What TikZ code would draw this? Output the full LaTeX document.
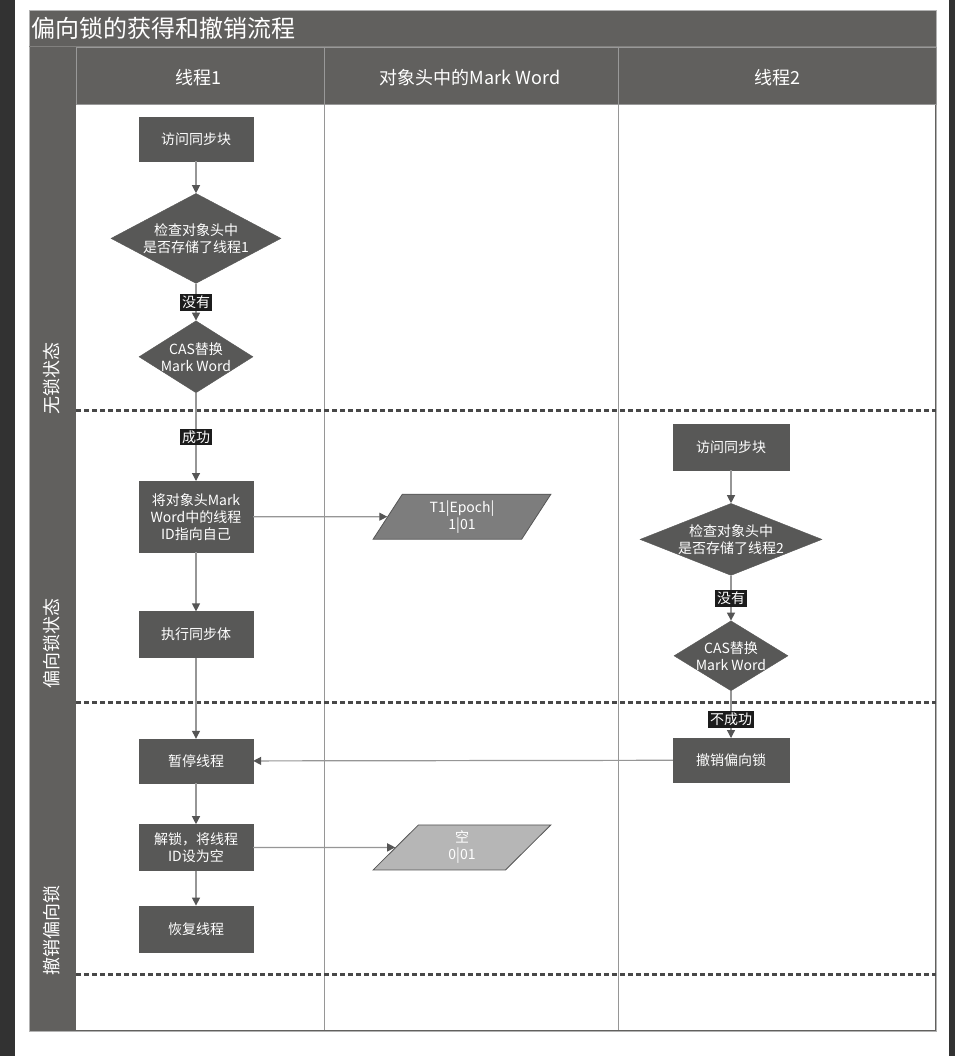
\documentclass[tikz,border=0pt]{standalone}
\usepackage{fontspec}
\setmainfont{Noto Sans CJK SC}
\usepackage{tikz}
\usetikzlibrary{shapes,arrows.meta,positioning}
\definecolor{lanegray}{RGB}{97,96,94}
\definecolor{boxgray}{RGB}{88,88,87}
\definecolor{linegray}{RGB}{150,150,150}
\definecolor{tipgray}{RGB}{85,85,85}
\definecolor{dashgray}{RGB}{72,72,72}
\definecolor{paradark}{RGB}{125,125,125}
\definecolor{paralight}{RGB}{182,182,182}
\definecolor{taggray}{RGB}{28,28,28}
\definecolor{outerdark}{RGB}{50,50,50}
\tikzstyle{proc} = [rectangle, draw=boxgray, fill=boxgray, text=white, align=center, font=\fontsize{14}{17}\selectfont, minimum width=114pt, minimum height=44pt, inner sep=2pt]
\tikzstyle{decide} = [diamond, draw=boxgray, fill=boxgray, text=white, align=center, font=\fontsize{14}{17}\selectfont, inner sep=-2pt]
\tikzstyle{record} = [trapezium, trapezium left angle=66, trapezium right angle=114, trapezium stretches=true, draw=tipgray, line width=0.8pt, text=white, align=center, font=\fontsize{14}{17}\selectfont, minimum width=178pt, minimum height=45pt]
\tikzstyle{tagbox} = [fill=taggray, text=white, font=\fontsize{14}{14}\selectfont, inner sep=2pt]
\tikzstyle{lanetitle} = [text=white, font=\fontsize{18}{18}\selectfont, rotate=90]
\tikzstyle{coltitle} = [text=white, font=\fontsize{18}{18}\selectfont]
\tikzstyle{laneline} = [dashgray, line width=3pt, dash pattern=on 5pt off 3pt]
\tikzstyle{tedge}  = [draw=linegray, line width=1.2pt, -{Triangle[length=8pt,width=8pt,color=tipgray]}]

\begin{document}
\begin{tikzpicture}[x=1pt, y=-1pt]
\useasboundingbox (0,0) rectangle (955,1056);

% frame and swimlanes =============================
\fill[outerdark] (0,0) rectangle (15,1056);
\fill[outerdark] (949,0) rectangle (955,1056);
\fill[lanegray] (29,10) rectangle (936,1031);
\fill[white] (76,104) rectangle (935,1030);
\draw[gray!60] (29,10) rectangle (936,1031);
\draw[lanegray!80!white] (29,46) -- (936,46);
\draw[gray!80] (76,47) rectangle (936,104);
\foreach \x in {324,618} {
  \draw[gray!80] (\x,47) -- (\x,104);
  \draw[linegray] (\x,104) -- (\x,1030);
}
\foreach \y in {410,702,974}
  \draw[laneline] (76,\y) -- (936,\y);

\node[anchor=west, text=white, font=\fontsize{24}{24}\selectfont] (title) at (28,28) {偏向锁的获得和撤销流程};
\node[coltitle] (col1) at (198,78) {线程1};
\node[coltitle] (col2) at (470,78) {对象头中的Mark Word};
\node[coltitle] (col3) at (777,78) {线程2};

\node[lanetitle] (lane1) at (52,378) {无锁状态};
\node[lanetitle] (lane2) at (52,643) {偏向锁状态};
\node[lanetitle] (lane3) at (52,930) {撤销偏向锁};

% thread 1 =============================
\node[proc] (acc1) at (196,139) {访问同步块};
\node[decide, aspect=2, minimum width=170pt, minimum height=90pt, below=32pt of acc1] (chk1) {检查对象头中\\是否存储了线程1};
\node[decide, aspect=1.6, minimum width=114pt, minimum height=72pt, below=37pt of chk1] (cas1) {CAS替换\\Mark Word};
\node[proc, minimum height=71pt, below=88pt of cas1] (set1) {将对象头Mark\\Word中的线程\\ID指向自己};
\node[proc, minimum height=46pt, below=59pt of set1] (exe1) {执行同步体};
\node[proc, below=81pt of exe1] (halt1) {暂停线程};
\node[proc, minimum height=46pt, below=41pt of halt1] (unl1) {解锁，将线程\\ID设为空};
\node[proc, minimum height=46pt, below=35pt of unl1] (res1) {恢复线程};

% mark word =============================
\coordinate (wordcol) at (462,0);
\node[record, fill=paradark] (rec1) at (set1 -| wordcol) {T1|Epoch|\\1|01};
\node[record, fill=paralight] (rec2) at (unl1 -| wordcol) {空\\0|01};

% thread 2 =============================
\node[proc, minimum width=116pt, minimum height=46pt] (acc2) at (731,447) {访问同步块};
\node[decide, aspect=2.8, minimum width=182pt, minimum height=72pt, below=33pt of acc2] (chk2) {检查对象头中\\是否存储了线程2};
\node[decide, aspect=1.6, minimum width=114pt, minimum height=70pt, below=45pt of chk2] (cas2) {CAS替换\\Mark Word};
\node[proc, minimum width=116pt, below=47pt of cas2] (rev2) {撤销偏向锁};

% edges
\path[tedge] (acc1) -- (chk1);
\path[tedge] (chk1) -- node[tagbox] {没有} (cas1);
\path[tedge] (cas1) -- node[tagbox] {成功} (set1);
\path[tedge] (set1) -- (rec1);
\path[tedge] (set1) -- (exe1);
\path[tedge] (exe1) -- (halt1);
\path[tedge] (halt1) -- (unl1);
\path[tedge] (unl1) -- (rec2);
\path[tedge] (unl1) -- (res1);

\path[tedge] (acc2) -- (chk2);
\path[tedge] (chk2) -- node[tagbox] {没有} (cas2);
\path[tedge] (cas2) -- node[tagbox, pos=0.6] {不成功} (rev2);
\path[tedge] (rev2) -- (halt1);

\end{tikzpicture}
\end{document}
